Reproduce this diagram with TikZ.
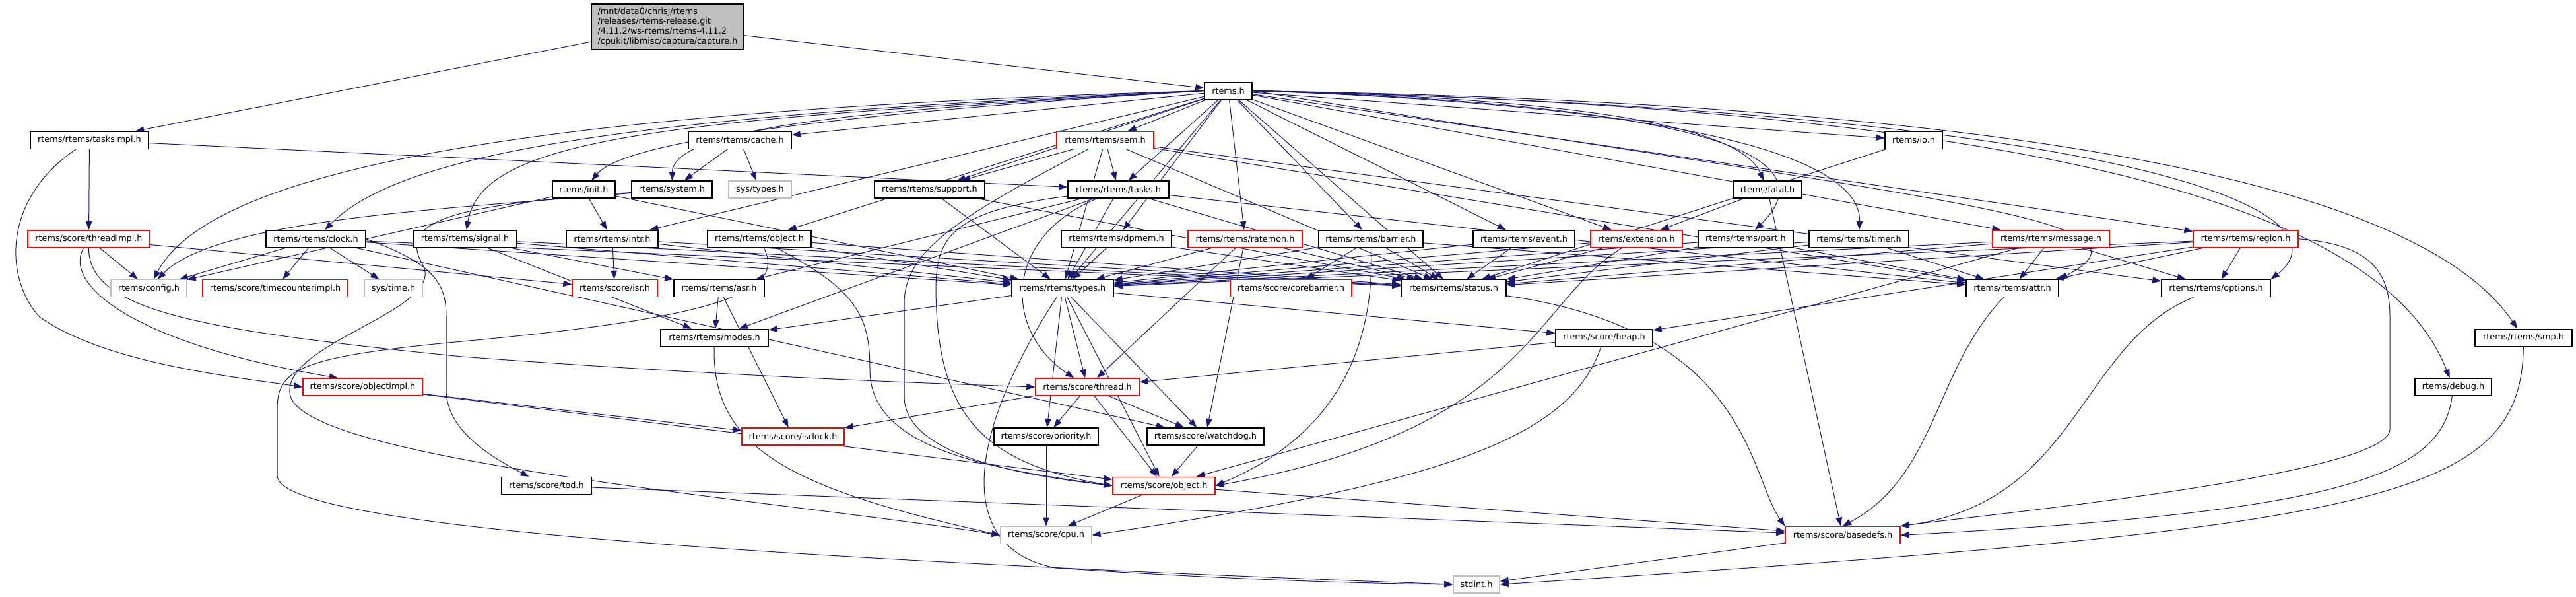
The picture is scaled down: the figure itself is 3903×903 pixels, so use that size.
\documentclass[tikz,border=0pt]{standalone}
\usepackage{fontspec}
\setmainfont{DejaVu Sans}
\usetikzlibrary{arrows.meta,backgrounds}
\definecolor{incblue}{HTML}{191970}
\definecolor{sysgray}{HTML}{BFBFBF}
\tikzset{
  hfile/.style={draw=black, fill=white, line width=1.4pt, inner sep=0pt,
    minimum height=26pt, font=\fontsize{12.8}{14.7}\selectfont},
  hred/.style={hfile, draw=red},
  hsys/.style={hfile, draw=sysgray},
  inc/.style={draw=incblue, line width=1pt, -{Triangle[length=13pt,width=9.5pt]}},
}
\begin{document}
\begin{tikzpicture}[x=1pt,y=-1pt]
\useasboundingbox (0,0) rectangle (3903,903);

% root file
\node (capture) [hfile, fill=sysgray, align=left, minimum width=231pt, minimum height=69pt] at (1011.5,40.5)
  {/mnt/data0/chrisj/rtems\\/releases/rtems-release.git\\/4.11.2/ws-rtems/rtems-4.11.2\\/cpukit/libmisc/capture/capture.h};
\node (rtemsh) [hfile, minimum width=72pt] at (1861,137.5) {rtems.h};

% rank 2
\node (tasksimpl) [hfile, minimum width=179pt] at (135.5,212.3) {rtems/rtems/tasksimpl.h};
\node (cache) [hfile, minimum width=156pt] at (1121,212.3) {rtems/rtems/cache.h};
\node (sem) [hred, minimum width=147pt] at (1674.5,212.3) {rtems/rtems/sem.h};
\node (io) [hfile, minimum width=87pt] at (2899.5,212.3) {rtems/io.h};

% rank 3
\node (init) [hfile, minimum width=95pt] at (884.5,287) {rtems/init.h};
\node (system) [hfile, minimum width=122pt] at (1018,287) {rtems/system.h};
\node (systypes) [hsys, minimum width=95pt] at (1151.5,287) {sys/types.h};
\node (support) [hfile, minimum width=167pt] at (1408.5,287) {rtems/rtems/support.h};
\node (tasks) [hfile, minimum width=153pt] at (1694.5,287) {rtems/rtems/tasks.h};
\node (fatal) [hfile, minimum width=104pt] at (2678,287) {rtems/fatal.h};

% rank 4
\node (threadimpl) [hred, minimum width=185pt] at (134.5,361.8) {rtems/score/threadimpl.h};
\node (clock) [hfile, minimum width=151pt] at (478.5,361.8) {rtems/rtems/clock.h};
\node (signal) [hfile, minimum width=157pt] at (704.5,361.8) {rtems/rtems/signal.h};
\node (intr) [hfile, minimum width=139pt] at (927.5,361.8) {rtems/rtems/intr.h};
\node (robject) [hfile, minimum width=157pt] at (1150.5,361.8) {rtems/rtems/object.h};
\node (dpmem) [hfile, minimum width=167pt] at (1691.5,361.8) {rtems/rtems/dpmem.h};
\node (ratemon) [hred, minimum width=173pt] at (1886.5,361.8) {rtems/rtems/ratemon.h};
\node (barrier) [hfile, minimum width=158pt] at (2077,361.8) {rtems/rtems/barrier.h};
\node (event) [hfile, minimum width=154pt] at (2309,361.8) {rtems/rtems/event.h};
\node (extension) [hred, minimum width=139pt] at (2479.5,361.8) {rtems/extension.h};
\node (part) [hfile, minimum width=144pt] at (2645,361.8) {rtems/rtems/part.h};
\node (timer) [hfile, minimum width=151pt] at (2816.5,361.8) {rtems/rtems/timer.h};
\node (message) [hred, minimum width=177pt] at (3107.5,361.8) {rtems/rtems/message.h};
\node (region) [hred, minimum width=159pt] at (3402.5,361.8) {rtems/rtems/region.h};

% rank 5
\node (config) [hsys, minimum width=115pt] at (225.5,436.5) {rtems/config.h};
\node (tcimpl) [hred, minimum width=220pt] at (417,436.5) {rtems/score/timecounterimpl.h};
\node (systime) [hsys, minimum width=88pt] at (596,436.5) {sys/time.h};
\node (isr) [hred, minimum width=129pt] at (931.5,436.5) {rtems/score/isr.h};
\node (asr) [hfile, minimum width=137pt] at (1089.5,436.5) {rtems/rtems/asr.h};
\node (types) [hfile, minimum width=154pt] at (1610,436.5) {rtems/rtems/types.h};
\node (corebarrier) [hred, minimum width=184pt] at (1956,436.5) {rtems/score/corebarrier.h};
\node (status) [hfile, minimum width=159pt] at (2202.5,436.5) {rtems/rtems/status.h};
\node (attr) [hfile, minimum width=140pt] at (3049,436.5) {rtems/rtems/attr.h};
\node (options) [hfile, minimum width=165pt] at (3357.5,436.5) {rtems/rtems/options.h};

% rank 6
\node (modes) [hfile, minimum width=163pt] at (1082.5,511.3) {rtems/rtems/modes.h};
\node (heap) [hfile, minimum width=147pt] at (2430.5,511.3) {rtems/score/heap.h};
\node (smp) [hfile, minimum width=147pt] at (3823.5,511.3) {rtems/rtems/smp.h};

% rank 7
\node (objectimpl) [hred, minimum width=181pt] at (549.5,586) {rtems/score/objectimpl.h};
\node (thread) [hred, minimum width=157pt] at (1647.5,586) {rtems/score/thread.h};
\node (debug) [hfile, minimum width=116pt] at (3717,586) {rtems/debug.h};

% rank 8
\node (isrlock) [hred, minimum width=155pt] at (1201.5,660.8) {rtems/score/isrlock.h};
\node (priority) [hfile, minimum width=158pt] at (1585,660.8) {rtems/score/priority.h};
\node (watchdog) [hfile, minimum width=177pt] at (1826.5,660.8) {rtems/score/watchdog.h};

% rank 9
\node (tod) [hfile, minimum width=136pt] at (828,735.5) {rtems/score/tod.h};
\node (sobject) [hred, minimum width=155pt] at (1763.5,735.5) {rtems/score/object.h};

% rank 10 and 11
\node (cpu) [hsys, minimum width=138pt] at (1585,810.3) {rtems/score/cpu.h};
\node (basedefs) [hred, minimum width=174pt] at (2792,810.3) {rtems/score/basedefs.h};
\node (stdint) [hsys, minimum width=70pt] at (2237,885) {stdint.h};

% includes
\begin{scope}[on background layer]
\foreach \src/\dst in {capture/tasksimpl, capture/rtemsh,
  rtemsh/cache, rtemsh/intr, rtemsh/robject, rtemsh/support, rtemsh/sem, rtemsh/tasks,
  rtemsh/dpmem, rtemsh/ratemon, rtemsh/barrier, rtemsh/event, rtemsh/extension,
  rtemsh/io, rtemsh/message, rtemsh/region, rtemsh/status, rtemsh/types,
  tasksimpl/threadimpl, tasksimpl/tasks,
  cache/system, cache/systypes,
  sem/support, sem/tasks, sem/types, sem/status, sem/attr, sem/options,
  init/config, init/intr, init/types,
  support/types, support/status,
  tasks/types, tasks/asr, tasks/attr, tasks/status, tasks/modes,
  fatal/extension, fatal/basedefs,
  io/status,
  threadimpl/config, threadimpl/isr,
  clock/config, clock/tcimpl, clock/systime, clock/types, clock/status, clock/watchdog,
  signal/asr, signal/modes, signal/types, signal/status,
  intr/isr, intr/types, intr/status,
  robject/types, robject/status,
  dpmem/types, dpmem/status,
  ratemon/types, ratemon/status, ratemon/thread, ratemon/watchdog,
  barrier/types, barrier/status, barrier/attr, barrier/corebarrier,
  event/types, event/status,
  extension/types, extension/status,
  part/types, part/status, part/attr,
  timer/types, timer/status, timer/attr,
  message/types, message/status, message/attr, message/options, message/sobject,
  region/types, region/status, region/attr, region/options, region/heap,
  asr/modes, asr/isrlock,
  types/modes, types/heap, types/thread, types/priority, types/watchdog, types/sobject,
  heap/thread,
  thread/priority, thread/watchdog, thread/sobject, thread/isrlock,
  priority/cpu, watchdog/sobject,
  objectimpl/isrlock, objectimpl/sobject,
  sobject/cpu, sobject/basedefs,
  tod/basedefs, basedefs/stdint}
  \draw[inc] (\src) -- (\dst);
% rtems.h fanning out sideways
\draw[inc] (rtemsh.west) .. controls (900,165) and (330,240) .. (config);
\draw[inc] (rtemsh.west) .. controls (900,175) and (600,240) .. (clock);
\draw[inc] (rtemsh.west) .. controls (1000,180) and (730,210) .. (signal);
\draw[inc] (rtemsh.west) .. controls (1300,170) and (950,210) .. (init);
\draw[inc] (rtemsh.west) .. controls (1450,160) and (1020,180) .. (system);
\draw[inc] (rtemsh.east) .. controls (2450,150) and (2640,200) .. (fatal);
\draw[inc] (rtemsh.east) .. controls (2650,160) and (2760,250) .. (part);
\draw[inc] (rtemsh.east) .. controls (2700,165) and (2820,270) .. (timer);
\draw[inc] (rtemsh.east) .. controls (2900,300) and (3300,330) .. (attr.north east);
\draw[inc] (rtemsh.east) .. controls (3300,170) and (3560,330) .. (options.north east);
\draw[inc] (rtemsh.east) .. controls (3200,165) and (3620,340) .. (debug);
\draw[inc] (rtemsh.east) .. controls (3300,160) and (3700,330) .. (smp);
% the long ones that swing round the left side
\draw[inc] (tasksimpl) .. controls (5,300) and (5,420) .. (60,480)
  .. controls (160,550) and (350,570) .. (objectimpl.west);
\draw[inc] (threadimpl) .. controls (95,430) and (200,520) .. (objectimpl.160);
\draw[inc] (threadimpl) .. controls (134,470) and (300,500) .. (700,540)
  .. controls (1100,570) and (1400,580) .. (thread.west);
\draw[inc] (system) .. controls (700,315) and (330,330) .. (config);
\draw[inc] (system) .. controls (700,310) and (600,330) .. (640,400)
  .. controls (680,470) and (420,520) .. (440,600)
  .. controls (470,700) and (1200,760) .. (cpu.west);
\draw[inc] (clock.east) .. controls (660,400) and (676,430) .. (676,480) -- (676,590)
  .. controls (676,650) and (740,690) .. (tod);
\draw[inc] (robject) .. controls (1190,440) and (1100,480) .. (700,517)
  .. controls (450,540) and (420,560) .. (420,620) -- (420,720)
  .. controls (420,790) and (1000,840) .. (stdint.west);
\draw[inc] (robject) .. controls (1300,440) and (1318,480) .. (1318,560)
  .. controls (1318,680) and (1500,710) .. (sobject.west);
\draw[inc] (sem) .. controls (1450,330) and (1370,380) .. (1370,460) -- (1370,600)
  .. controls (1370,690) and (1550,720) .. (sobject.west);
\draw[inc] (tasks) .. controls (1440,320) and (1418,360) .. (1418,440)
  .. controls (1420,620) and (1480,700) .. (sobject.west);
\draw[inc] (tasks) .. controls (1520,360) and (1520,500) .. (thread);
\draw[inc] (modes) .. controls (1078,680) and (1200,740) .. (cpu.west);
\draw[inc] (types) .. controls (1470,650) and (1440,830) .. (1600,860)
  .. controls (1900,880) and (2100,884) .. (stdint.west);
% and round the right side
\draw[inc] (heap) .. controls (2380,660) and (2200,730) .. (cpu.east);
\draw[inc] (extension) .. controls (2320,460) and (2320,650) .. (sobject.east);
\draw[inc] (barrier) .. controls (2085,600) and (1950,690) .. (sobject.east);
\draw[inc] (status) .. controls (2650,500) and (2650,720) .. (basedefs.north west);
\draw[inc] (attr) .. controls (2930,560) and (2935,720) .. (basedefs.north);
\draw[inc] (options) .. controls (3150,520) and (3150,760) .. (basedefs.north east);
\draw[inc] (region.east) .. controls (3600,370) and (3621,420) .. (3621,480) -- (3621,650)
  .. controls (3621,720) and (3000,780) .. (basedefs.north east);
\draw[inc] (debug) .. controls (3700,720) and (3550,775) .. (basedefs.east);
\draw[inc] (smp) .. controls (3820,760) and (3600,800) .. (stdint.east);
\end{scope}
\end{tikzpicture}
\end{document}
